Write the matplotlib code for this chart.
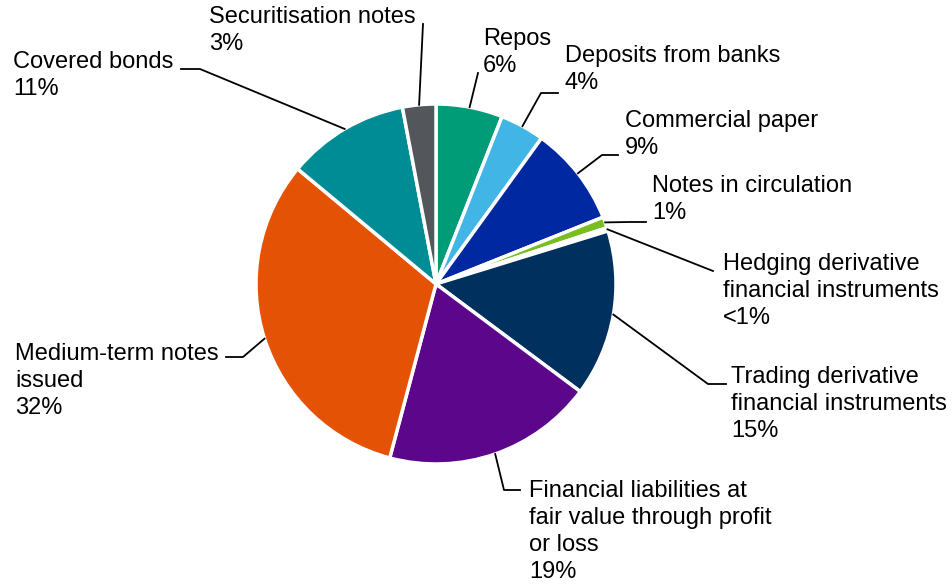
import numpy as np
import matplotlib
matplotlib.use('Agg')
import matplotlib.pyplot as plt

plt.rcParams['font.family'] = ['Liberation Sans', 'DejaVu Sans']

# data, clockwise from 12 o'clock
labels = ['Repos\n6%', 'Deposits from banks\n4%', 'Commercial paper\n9%',
          'Notes in circulation\n1%',
          'Hedging derivative\nfinancial instruments\n<1%',
          'Trading derivative\nfinancial instruments\n15%',
          'Financial liabilities at\nfair value through profit\nor loss\n19%',
          'Medium-term notes\nissued\n32%', 'Covered bonds\n11%',
          'Securitisation notes\n3%']
values = [6, 4, 9, 1, 0.3, 15, 19, 32, 11, 3]
colors = ['#009b77', '#41b6e6', '#0028a0', '#78be20', '#ffffff',
          '#00305e', '#5c068c', '#e35205', '#008c95', '#53565a']

W, H = 953, 586
# label text anchors (top-left, pixels from top-left of image)
text_pos = [(483, 28), (565, 45), (625, 110), (652, 175), (723, 253),
            (731, 366), (529, 480), (15, 343), (13, 51), (209, 6)]
# elbow / end points of leader lines (pixels); None = straight line
elbows = [None, (541, 93), (602, 155), (629, 222), None,
          (708, 384), (504, 490), (243, 357), (200, 69), None]
ends = [(478, 73), (558, 93), (618, 155), (646, 222), (713, 271),
        (726, 384), (520, 490), (226, 357), (181, 69), (423, 24)]

fig = plt.figure(figsize=(W / 100, H / 100), dpi=100)
ax = fig.add_axes([0, 0, 1, 1])

cx, cy, R = 436, 284, 180
wedges, _ = ax.pie(values, colors=colors, startangle=90, counterclock=False,
                   center=(cx, H - cy), radius=R,
                   wedgeprops=dict(edgecolor='white', linewidth=2.5))
ax.set_xlim(0, W)
ax.set_ylim(0, H)
ax.set_aspect('equal')
ax.axis('off')

for w, lab, tp, el, en in zip(wedges, labels, text_pos, elbows, ends):
    mid = np.deg2rad((w.theta1 + w.theta2) / 2)
    sx = w.center[0] + w.r * np.cos(mid)
    sy = w.center[1] + w.r * np.sin(mid)
    pts = [(sx, sy)]
    if el is not None:
        pts.append((el[0], H - el[1]))
    pts.append((en[0], H - en[1]))
    xs, ys = zip(*pts)
    ax.plot(xs, ys, color='black', lw=1.3, clip_on=False)
    ax.text(tp[0], H - tp[1], lab, ha='left', va='top', fontsize=17,
            linespacing=1.3, color='black')

fig.savefig('out.png', dpi=100)
